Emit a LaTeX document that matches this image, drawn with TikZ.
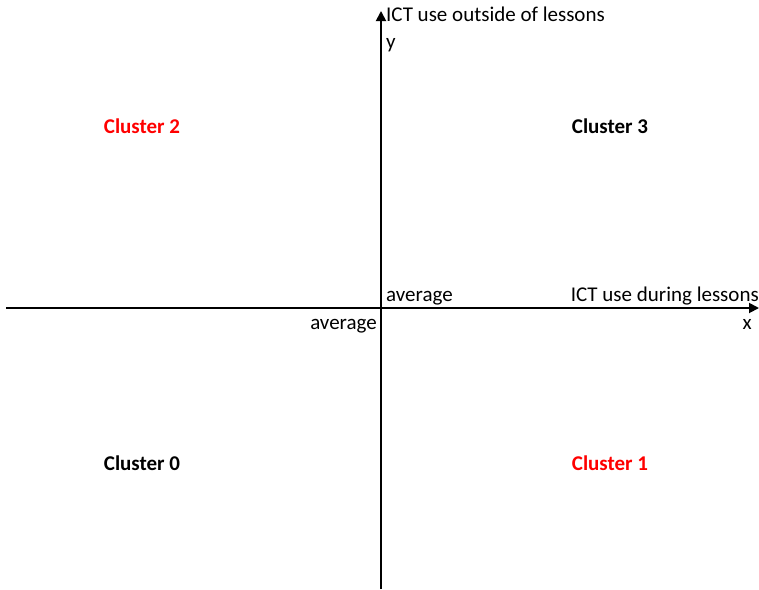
\documentclass[tikz,border=0pt]{standalone}
\usepackage{fontspec}
\setmainfont{Carlito}
\usetikzlibrary{arrows.meta}
\definecolor{clred}{RGB}{255,0,0}
\begin{document}
\begin{tikzpicture}[x=1pt,y=-1pt,
  axis/.style={line width=1.8pt,-{Triangle[length=10pt,width=10pt]}},
  lbl/.style={inner sep=0pt,font=\fontsize{21}{25}\selectfont},
  cl/.style={inner sep=0pt,font=\fontsize{21}{25}\selectfont\bfseries},
  hot/.style={cl,text=clred}]
  \useasboundingbox (0,0) rectangle (759,589);
  % axes
  \coordinate (xs) at (6,308);
  \coordinate (xe) at (759,308);
  \coordinate (ys) at (381,589);
  \coordinate (ye) at (381,11);
  \draw[axis] (xs) -- (xe);
  \draw[axis] (ys) -- (ye);
  % axis labels
  \node[lbl,anchor=base west] (ylab) at (386,21) {ICT use outside of lessons};
  \node[lbl,anchor=base west] (yname) at (386,48) {y};
  \node[lbl,anchor=base east] (xlab) at (759,301) {ICT use during lessons};
  \node[lbl,anchor=base east] (xname) at (752,329) {x};
  \node[lbl,anchor=base west] (avgy) at (386,301) {average};
  \node[lbl,anchor=base east] (avgx) at (377,329) {average};
  % quadrants
  \node[hot] (c2) at (142,126) {Cluster 2};
  \node[cl] (c3) at (610,126) {Cluster 3};
  \node[cl] (c0) at (142,463) {Cluster 0};
  \node[hot] (c1) at (610,463) {Cluster 1};
\end{tikzpicture}
\end{document}
